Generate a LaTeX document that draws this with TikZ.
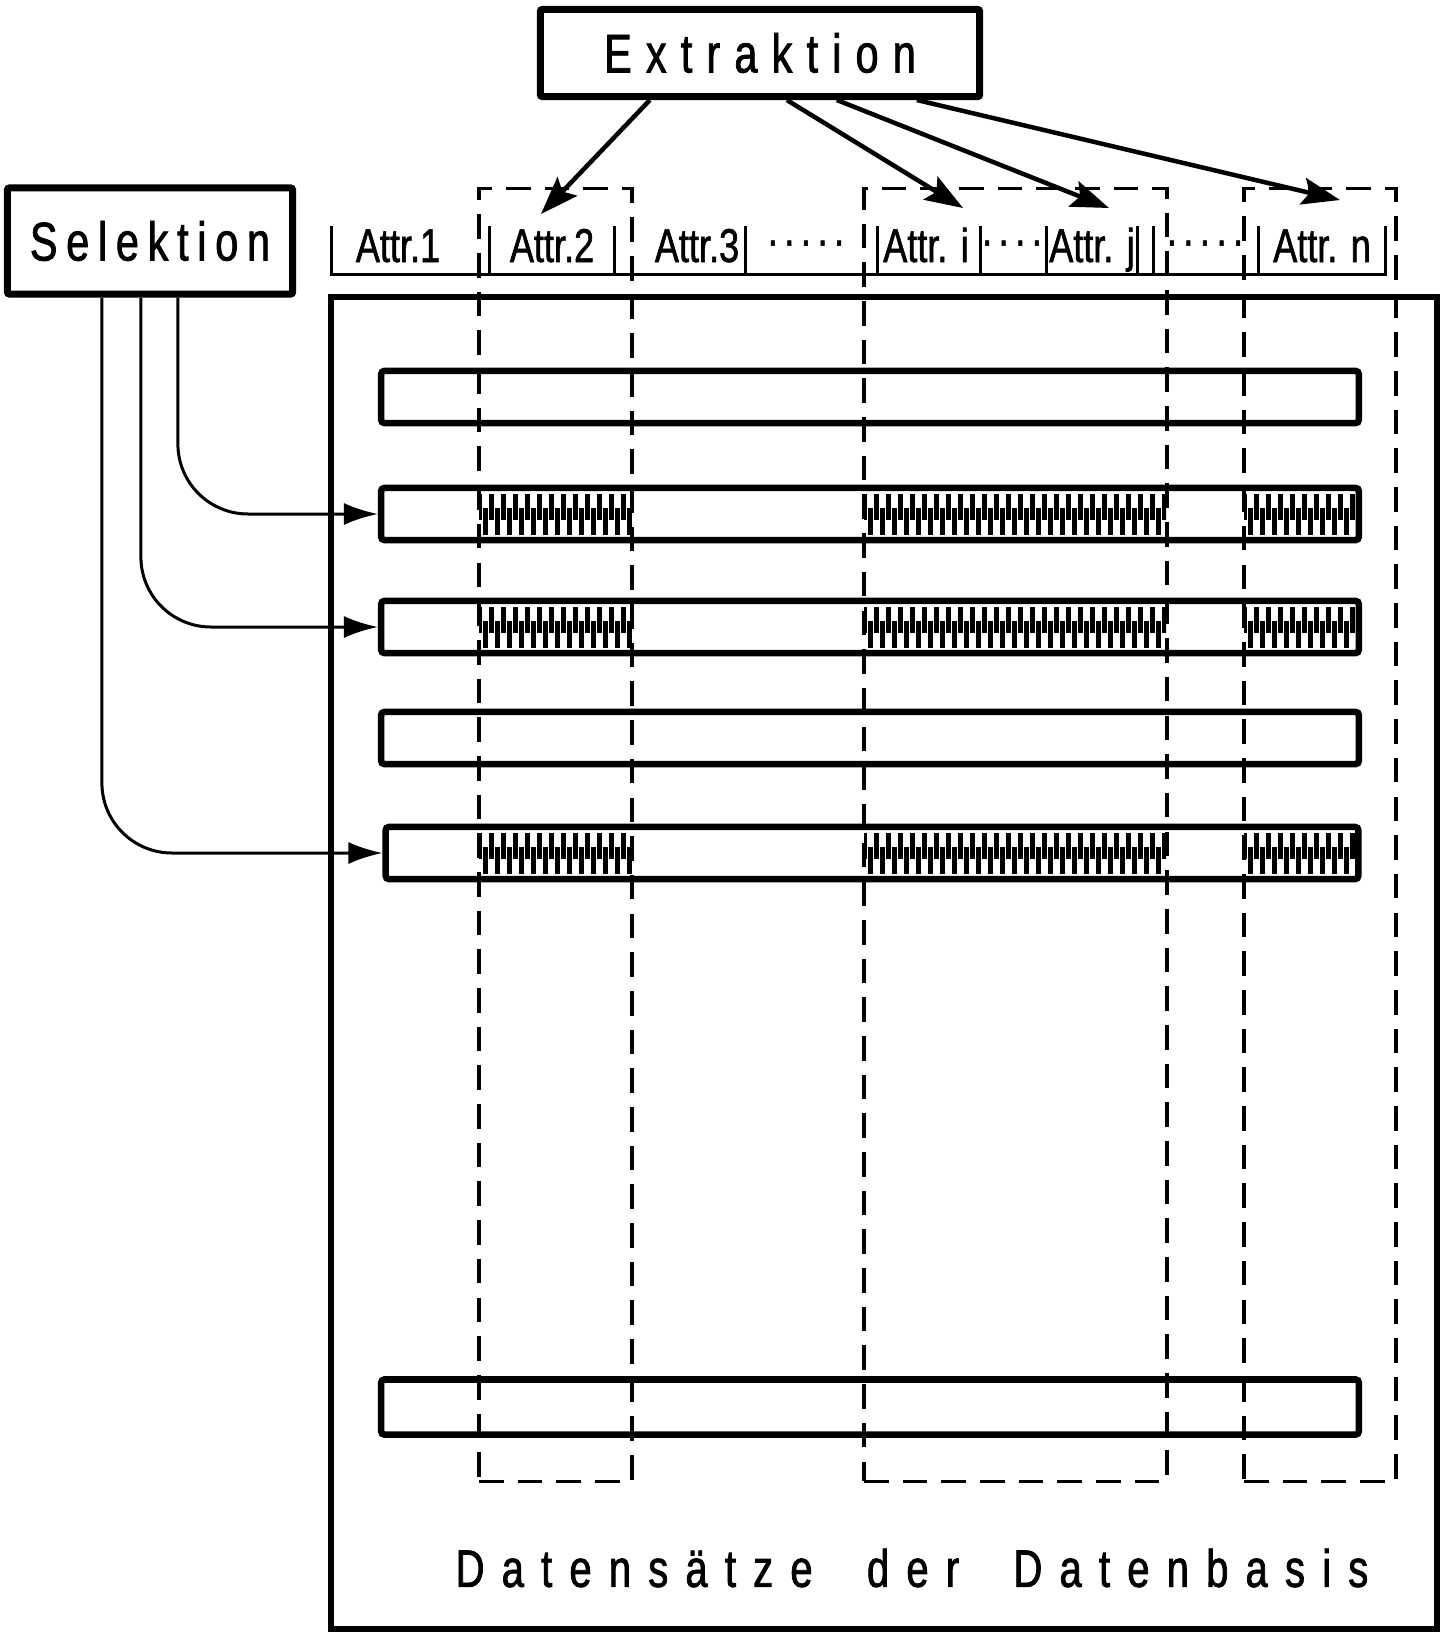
\documentclass[tikz,border=0pt]{standalone}
\usepackage{fontspec}
\setmainfont{Liberation Sans}[FakeStretch=0.76, FakeBold=1.2]
\newfontfamily\spacedfont{Liberation Sans}[FakeStretch=0.76, FakeBold=1.4]
\usetikzlibrary{arrows.meta, positioning, calc}

% hatching of the extracted fields: #1 y centre, #2 left x, #3 right x
\newcommand{\fieldhatch}[3]{%
  \begin{scope}
    \clip (#2,#1-20) rectangle (#3,#1+20);
    \foreach \k in {0,...,28} {
      \draw[line width=0.05cm] (#2+\k*12,#1-21) -- ++(0,27);
      \draw[line width=0.05cm] (#2+6+\k*12,#1+21) -- ++(0,-27);
    }
  \end{scope}}
\newcommand{\hdot}{·\kern1.3pt}

\begin{document}
\begin{tikzpicture}[x=0.01cm, y=-0.01cm,
  procbox/.style={draw, line width=0.07cm, rounded corners=0.02cm, align=center,
    font=\spacedfont\fontsize{15.5}{18}\selectfont},
  dbbox/.style={draw, line width=0.06cm, minimum width=11.06cm, minimum height=13.32cm},
  record/.style={draw, line width=0.065cm, rounded corners=0.03cm, minimum width=9.77cm, minimum height=0.52cm},
  column/.style={draw, line width=0.035cm, dash pattern=on 7pt off 4pt, minimum height=12.92cm},
  attr/.style={font=\fontsize{13.5}{16}\selectfont, inner sep=0pt, anchor=base},
  hdr/.style={line width=0.03cm},
  extarrow/.style={-{Stealth[length=0.38cm, width=0.27cm, inset=0.07cm]}, line width=0.045cm},
  selarrow/.style={-{Latex[length=0.34cm, width=0.22cm]}, line width=0.03cm, rounded corners=0.7cm}
]
\useasboundingbox (0,0) rectangle (1443,1633);

% boxes
\node[procbox, minimum width=4.39cm, minimum height=0.87cm] (extr) at (760,53)
  {\addfontfeatures{LetterSpace=26}Extraktion};
\node[procbox, minimum width=2.85cm, minimum height=1.06cm] (sel) at (150,241)
  {\addfontfeatures{LetterSpace=16}Selektion};
\node[dbbox] (db) at (884,963) {};
\node[font=\spacedfont\fontsize{15}{17}\selectfont] (dbtext) at (912,1568)
  {\addfontfeatures{LetterSpace=32.5}Datensätze\hspace{0.26cm} der\hspace{0.26cm} Datenbasis};

% hatching inside the selected records
\foreach \ry in {514,627,853} {
  \fieldhatch{\ry}{479}{632}
  \fieldhatch{\ry}{864}{1166}
  \fieldhatch{\ry}{1244}{1355}
}

% records of the database
\node[record] (recA) at (870,397) {};
\node[record] (recB) at (870,514) {};
\node[record] (recC) at (870,627) {};
\node[record] (recD) at (870,738) {};
\node[record, minimum width=9.72cm] (recE) at (872,853) {};
\node[record, minimum height=0.55cm] (recF) at (870,1407) {};

% extracted attribute columns
\node[column, minimum width=1.53cm] (colA) at (555.5,835) {};
\node[column, minimum width=3.03cm] (colB) at (1015.5,835) {};
\node[column, minimum width=1.52cm] (colC) at (1320,835) {};

% attribute header
\draw[hdr] (331,226) |- (1385,274) -- (1385,226);
\foreach \tx in {489,614,745,877,980,1046,1137,1153,1258}
  \draw[hdr] (\tx,226) -- (\tx,274);
\node[attr] (at1) at (398,262) {Attr.1};
\node[attr] (at2) at (552,262) {Attr.2};
\node[attr] (at3) at (697,262) {Attr.3};
\node[attr] (dot1) at (806,256) {\hdot\hdot\hdot\hdot·};
\node[attr] (ati) at (926,262) {Attr. i};
\node[attr] (dot2) at (1012,256) {\hdot\hdot\hdot·};
\node[attr] (atj) at (1092,262) {Attr. j};
\node[attr] (dot3) at (1205,256) {\hdot\hdot\hdot\hdot·};
\node[attr] (atn) at (1322,262) {Attr. n};

% extraction arrows
\coordinate (tipA) at (541,214);
\coordinate (tipI) at (963,208);
\coordinate (tipJ) at (1109,208);
\coordinate (tipN) at (1340,200);
\draw[extarrow] ($(extr.south west)+(113,0)$) -- (tipA);
\draw[extarrow] ($(extr.south west)+(250,0)$) -- (tipI);
\draw[extarrow] ($(extr.south west)+(300,0)$) -- (tipJ);
\draw[extarrow] ($(extr.south west)+(380,0)$) -- (tipN);

% selection arrows
\draw[selarrow] ($(sel.south west)+(174,0)$) |- (recB.west);
\draw[selarrow] ($(sel.south west)+(137,0)$) |- (recC.west);
\draw[selarrow] ($(sel.south west)+(98,0)$) |- (recE.west);

\end{tikzpicture}
\end{document}
